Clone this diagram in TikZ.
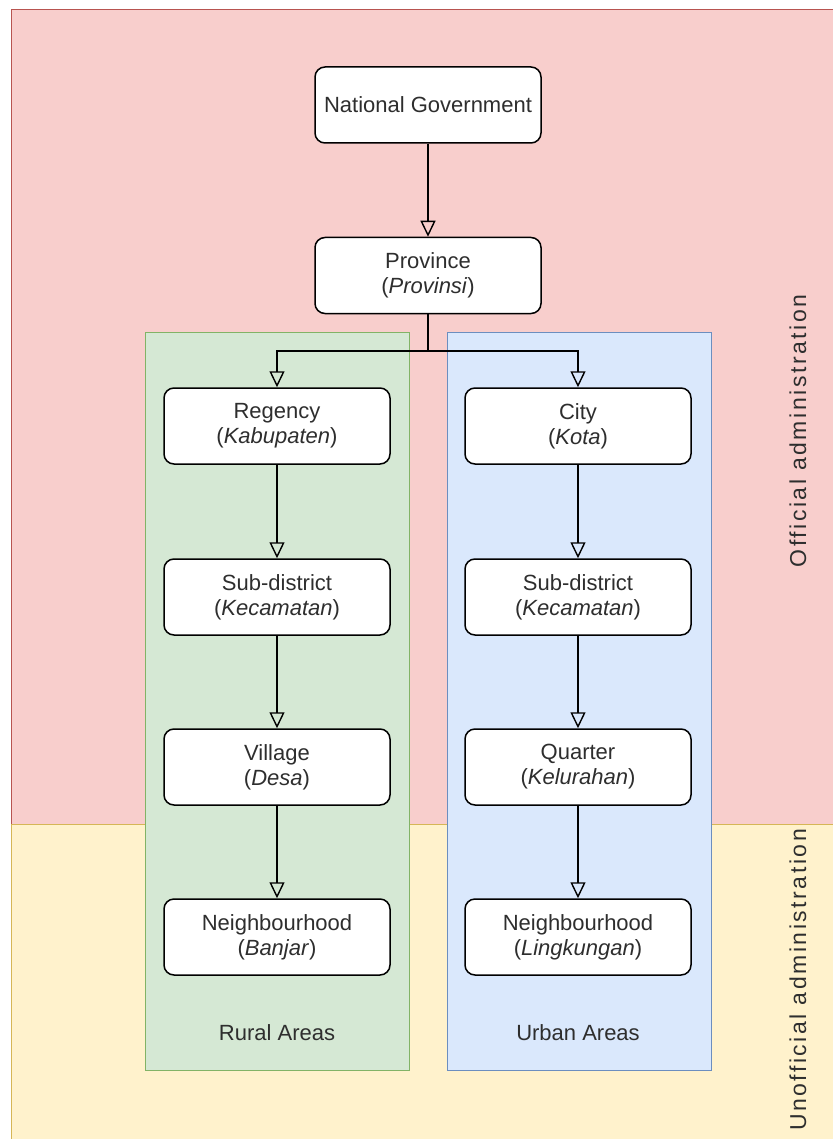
\documentclass[tikz,border=0pt]{standalone}
\usepackage{fontspec}
\setmainfont{Liberation Sans}
\usetikzlibrary{arrows.meta}
\definecolor{pinkfill}{HTML}{F8CECC}
\definecolor{pinkline}{HTML}{B85450}
\definecolor{yellowfill}{HTML}{FFF2CC}
\definecolor{yellowline}{HTML}{D6B656}
\definecolor{greenfill}{HTML}{D5E8D4}
\definecolor{greenline}{HTML}{82B366}
\definecolor{bluefill}{HTML}{DAE8FC}
\definecolor{blueline}{HTML}{6C8EBF}
\definecolor{textgray}{HTML}{2E2E2E}
\tikzset{
  box/.style={draw=black, fill=white, rounded corners=10pt, line width=1.5pt,
    minimum width=226pt, minimum height=76pt, inner sep=0pt, align=center,
    text=textgray, font=\fontsize{22}{25}\selectfont},
  conn/.style={line width=1.5pt, draw=black},
  arr/.style={conn, -{Triangle[open, length=16pt, width=15pt, line width=1.4pt]}},
  arealabel/.style={text=textgray, font=\fontsize{22}{25}\selectfont},
  sidelabel/.style={rotate=90, text=textgray, font=\fontsize{23}{25}\selectfont\addfontfeature{LetterSpace=11}}
}
\begin{document}
\begin{tikzpicture}[x=1pt, y=-1pt]
\useasboundingbox (0,0) rectangle (832,1139);
\fill[white] (0,0) rectangle (832,1139);
% layers
\filldraw[fill=pinkfill, draw=pinkline, line width=1pt] (11,10) rectangle (834,824);
\filldraw[fill=yellowfill, draw=yellowline, line width=1pt] (11,824) rectangle (834,1141);
% area panels
\filldraw[fill=greenfill, draw=greenline, line width=1pt] (145,332) rectangle (409,1070);
\filldraw[fill=bluefill, draw=blueline, line width=1pt] (447,332) rectangle (711,1070);
% nodes
\node[box] (nat) at (428,105) {National Government};
\node[box] (prov) at (428,275.5) {Province\\(\textit{Provinsi})};
\node[box] (reg) at (277,426) {Regency\\(\textit{Kabupaten})};
\node[box] (subr) at (277,597) {Sub-district\\(\textit{Kecamatan})};
\node[box] (vil) at (277,767) {Village\\(\textit{Desa})};
\node[box] (nbr) at (277,937) {Neighbourhood\\(\textit{Banjar})};
\node[box] (city) at (578,426) {City\\(\textit{Kota})};
\node[box] (subu) at (578,597) {Sub-district\\(\textit{Kecamatan})};
\node[box] (qua) at (578,767) {Quarter\\(\textit{Kelurahan})};
\node[box] (nbu) at (578,937) {Neighbourhood\\(\textit{Lingkungan})};
% labels
\node[arealabel] (rural) at (277,1033) {Rural Areas};
\node[arealabel] (urban) at (578,1033) {Urban Areas};
\node[sidelabel] (off) at (798,431) {Official administration};
\node[sidelabel] (unoff) at (798,980) {Unofficial administration};
% connectors
\coordinate (j) at (428,351);
\draw[arr] (nat) -- (prov);
\draw[conn] (prov.south) -- (j);
\draw[arr] (j) -| (reg.north);
\draw[arr] (j) -| (city.north);
\draw[arr] (reg) -- (subr);
\draw[arr] (subr) -- (vil);
\draw[arr] (vil) -- (nbr);
\draw[arr] (city) -- (subu);
\draw[arr] (subu) -- (qua);
\draw[arr] (qua) -- (nbu);
\end{tikzpicture}
\end{document}
